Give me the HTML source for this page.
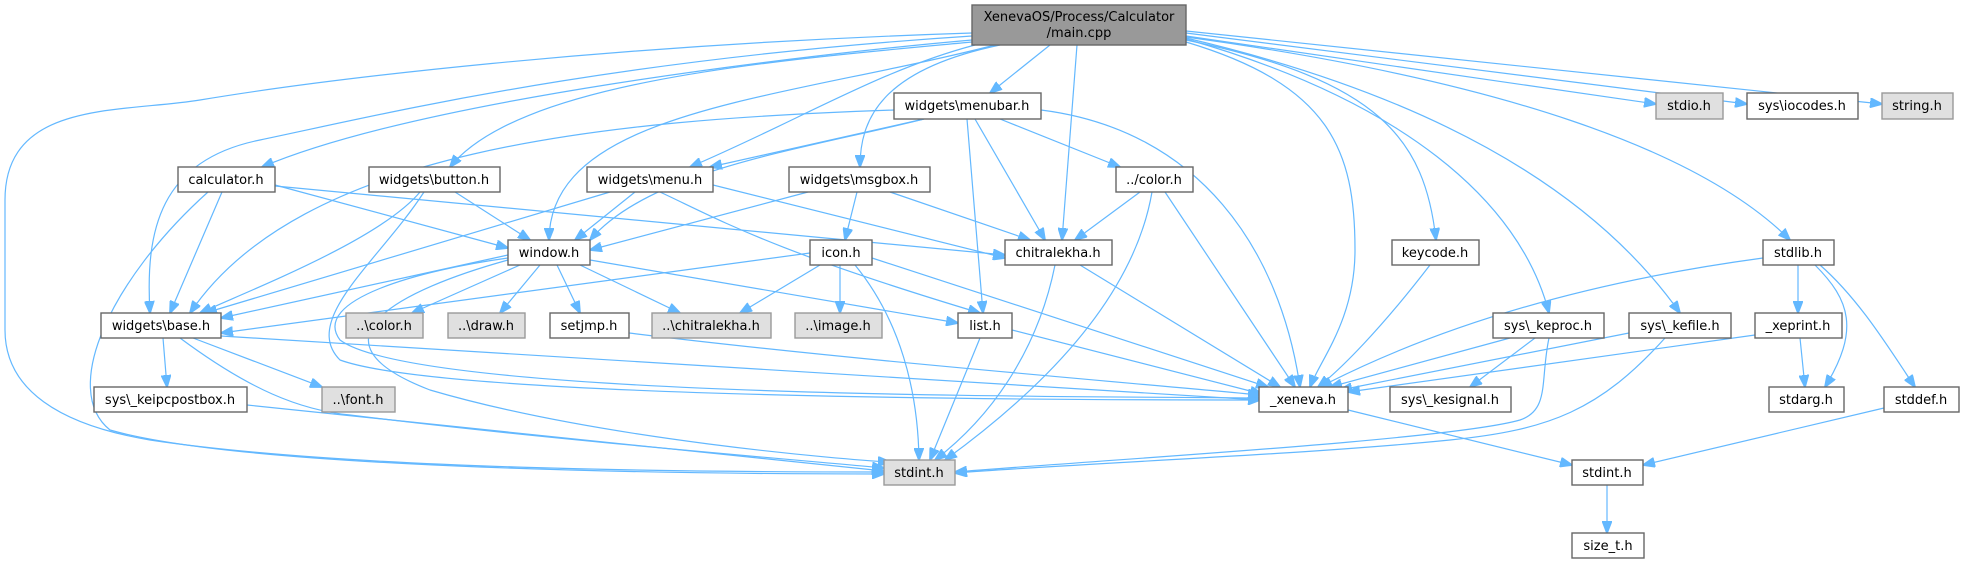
<!DOCTYPE html>
<html><head><meta charset="utf-8"><style>
html,body{margin:0;padding:0;background:#fff;}
svg{display:block;}
text{font-family:"DejaVu Sans","Liberation Sans",sans-serif;font-size:13px;fill:#000;text-anchor:middle;}
.n{fill:#fff;stroke:#666;stroke-width:1.4;}
.g{fill:#e0e0e0;stroke:#999;stroke-width:1.4;}
.e{fill:none;stroke:#63b8ff;stroke-width:1.2;marker-end:url(#a);}
</style></head><body>
<svg width="1964" height="564" viewBox="0 0 1964 564" xmlns="http://www.w3.org/2000/svg">
<defs><marker id="a" markerWidth="13" markerHeight="10" refX="12" refY="5" orient="auto" markerUnits="userSpaceOnUse"><path d="M0,0 L13,5 L0,10 z" fill="#63b8ff" stroke="#63b8ff"/></marker></defs>

<path class="e" d="M972,33 C600,45 320,80 200,100 C120,113 5,100 5,200 L5,330 C5,390 60,425 150,440 C350,470 700,472 884,472"/>
<path class="e" d="M972,36 C600,60 380,115 260,140 C160,160 145,230 150,313"/>
<path class="e" d="M972,40 C800,55 420,100 262,167"/>
<path class="e" d="M972,42 C780,60 520,80 450,167"/>
<path class="e" d="M975,45 C880,70 800,120 690,167"/>
<path class="e" d="M1000,45 C880,70 860,120 860,167"/>
<path class="e" d="M1050,45 L990,93"/>
<path class="e" d="M995,45 C780,100 550,110 549,240"/>
<path class="e" d="M1077,45 L1062,240"/>
<path class="e" d="M1186,42 C1330,85 1355,150 1355,250 C1355,320 1320,360 1310,387"/>
<path class="e" d="M1186,40 C1380,80 1425,140 1436,240"/>
<path class="e" d="M1186,39 C1400,100 1520,200 1549,313"/>
<path class="e" d="M1186,38 C1450,100 1600,200 1680,313"/>
<path class="e" d="M1186,37 C1500,80 1700,150 1790,240"/>
<path class="e" d="M1186,36 L1656,104"/>
<path class="e" d="M1186,33 L1747,104"/>
<path class="e" d="M1186,31 L1882,104"/>

<path class="e" d="M894,110 C600,120 300,150 190,313"/>
<path class="e" d="M924,119 L710,167"/>
<path class="e" d="M924,119 C800,150 650,170 590,240"/>
<path class="e" d="M967,119 L983,313"/>
<path class="e" d="M975,119 L1045,240"/>
<path class="e" d="M1000,119 L1120,167"/>
<path class="e" d="M1041,110 C1200,130 1280,250 1300,387"/>

<path class="e" d="M222,192 L170,313"/>
<path class="e" d="M275,185 L508,248"/>
<path class="e" d="M275,186 L1005,255"/>
<path class="e" d="M208,192 C110,280 60,390 110,430 C250,470 700,474 884,474"/>

<path class="e" d="M455,192 L530,240"/>
<path class="e" d="M420,192 C380,240 250,290 200,313"/>
<path class="e" d="M424,192 C380,260 300,320 340,360 C450,400 1100,400 1260,400"/>

<path class="e" d="M635,192 L575,240"/>
<path class="e" d="M610,192 L205,313"/>
<path class="e" d="M660,192 C720,220 770,250 980,313"/>
<path class="e" d="M713,185 L1005,258"/>

<path class="e" d="M808,192 L590,250"/>
<path class="e" d="M857,192 L845,240"/>
<path class="e" d="M890,192 L1030,240"/>

<path class="e" d="M1140,192 L1075,240"/>
<path class="e" d="M1152,192 C1130,320 1000,420 945,460"/>
<path class="e" d="M1165,192 L1295,387"/>

<path class="e" d="M508,255 L221,318"/>
<path class="e" d="M520,265 L412,313"/>
<path class="e" d="M540,265 L500,313"/>
<path class="e" d="M557,265 L580,313"/>
<path class="e" d="M580,265 L680,313"/>
<path class="e" d="M590,260 L958,323"/>
<path class="e" d="M508,258 C420,270 310,300 340,340 C420,400 1100,396 1260,398"/>
<path class="e" d="M508,260 C400,290 300,340 430,390 C600,440 850,460 890,462"/>

<path class="e" d="M810,253 L221,333"/>
<path class="e" d="M820,265 L740,313"/>
<path class="e" d="M840,265 L840,313"/>
<path class="e" d="M855,265 C900,320 918,390 919,460"/>
<path class="e" d="M872,258 L1268,387"/>

<path class="e" d="M1055,265 C1040,340 1000,410 935,460"/>
<path class="e" d="M1080,265 L1280,387"/>

<path class="e" d="M163,338 L167,387"/>
<path class="e" d="M193,338 L322,387"/>
<path class="e" d="M221,336 L1260,400"/>
<path class="e" d="M180,338 C250,390 300,410 350,415 C550,440 800,460 884,468"/>

<path class="e" d="M247,405 L884,471"/>

<path class="e" d="M980,338 L930,460"/>
<path class="e" d="M1012,330 L1262,394"/>

<path class="e" d="M629,333 C850,360 1100,380 1260,395"/>

<path class="e" d="M1430,265 C1380,330 1340,370 1318,387"/>

<path class="e" d="M1510,338 L1330,387"/>
<path class="e" d="M1535,338 L1470,387"/>
<path class="e" d="M1549,338 C1540,380 1550,410 1520,420 C1450,440 1100,460 955,472"/>

<path class="e" d="M1629,333 L1340,390"/>
<path class="e" d="M1665,338 C1600,410 1550,430 1450,440 C1300,455 1100,462 955,473"/>

<path class="e" d="M1763,258 C1600,280 1450,320 1320,387"/>
<path class="e" d="M1798,265 L1798,313"/>
<path class="e" d="M1815,265 C1850,300 1860,330 1825,387"/>
<path class="e" d="M1820,265 C1860,300 1890,350 1915,387"/>

<path class="e" d="M1755,335 L1348,392"/>
<path class="e" d="M1800,338 L1805,387"/>

<path class="e" d="M1348,410 L1572,465"/>
<path class="e" d="M1884,408 L1643,465"/>
<path class="e" d="M1607,485 L1607,533"/>

<rect x="972" y="5" width="214" height="40" fill="#999" stroke="#666" stroke-width="1.4"/>
<text x="1079" y="21">XenevaOS/Process/Calculator</text>
<text x="1079" y="37">/main.cpp</text>

<rect class="n" x="894" y="93" width="147" height="26"/><text x="967" y="110">widgets\menubar.h</text>
<rect class="g" x="1656" y="93" width="67" height="26"/><text x="1689" y="110">stdio.h</text>
<rect class="n" x="1747" y="93" width="111" height="26"/><text x="1802" y="110">sys\iocodes.h</text>
<rect class="g" x="1882" y="93" width="71" height="26"/><text x="1917" y="110">string.h</text>

<rect class="n" x="178" y="167" width="97" height="25"/><text x="226" y="184">calculator.h</text>
<rect class="n" x="369" y="167" width="131" height="25"/><text x="434" y="184">widgets\button.h</text>
<rect class="n" x="587" y="167" width="126" height="25"/><text x="650" y="184">widgets\menu.h</text>
<rect class="n" x="789" y="167" width="141" height="25"/><text x="859" y="184">widgets\msgbox.h</text>
<rect class="n" x="1116" y="167" width="77" height="25"/><text x="1154" y="184">../color.h</text>

<rect class="n" x="508" y="240" width="82" height="25"/><text x="549" y="257">window.h</text>
<rect class="n" x="810" y="240" width="62" height="25"/><text x="841" y="257">icon.h</text>
<rect class="n" x="1005" y="240" width="107" height="25"/><text x="1058" y="257">chitralekha.h</text>
<rect class="n" x="1392" y="240" width="87" height="25"/><text x="1435" y="257">keycode.h</text>
<rect class="n" x="1763" y="240" width="71" height="25"/><text x="1798" y="257">stdlib.h</text>

<rect class="n" x="101" y="313" width="120" height="25"/><text x="161" y="330">widgets\base.h</text>
<rect class="g" x="346" y="313" width="77" height="25"/><text x="384" y="330">..\color.h</text>
<rect class="g" x="448" y="313" width="77" height="25"/><text x="486" y="330">..\draw.h</text>
<rect class="n" x="550" y="313" width="79" height="25"/><text x="589" y="330">setjmp.h</text>
<rect class="g" x="652" y="313" width="119" height="25"/><text x="711" y="330">..\chitralekha.h</text>
<rect class="g" x="795" y="313" width="87" height="25"/><text x="838" y="330">..\image.h</text>
<rect class="n" x="958" y="313" width="54" height="25"/><text x="985" y="330">list.h</text>
<rect class="n" x="1493" y="313" width="111" height="25"/><text x="1548" y="330">sys\_keproc.h</text>
<rect class="n" x="1629" y="313" width="102" height="25"/><text x="1680" y="330">sys\_kefile.h</text>
<rect class="n" x="1755" y="313" width="87" height="25"/><text x="1798" y="330">_xeprint.h</text>

<rect class="n" x="94" y="387" width="153" height="25"/><text x="170" y="404">sys\_keipcpostbox.h</text>
<rect class="g" x="322" y="387" width="73" height="25"/><text x="358" y="404">..\font.h</text>
<rect class="n" x="1259" y="387" width="89" height="25"/><text x="1303" y="404">_xeneva.h</text>
<rect class="n" x="1390" y="387" width="121" height="25"/><text x="1450" y="404">sys\_kesignal.h</text>
<rect class="n" x="1769" y="387" width="75" height="25"/><text x="1806" y="404">stdarg.h</text>
<rect class="n" x="1884" y="387" width="75" height="25"/><text x="1921" y="404">stddef.h</text>

<rect class="g" x="884" y="460" width="71" height="25"/><text x="919" y="477">stdint.h</text>
<rect class="n" x="1572" y="460" width="71" height="25"/><text x="1607" y="477">stdint.h</text>
<rect class="n" x="1572" y="533" width="72" height="25"/><text x="1608" y="550">size_t.h</text>
</svg>
</body></html>
